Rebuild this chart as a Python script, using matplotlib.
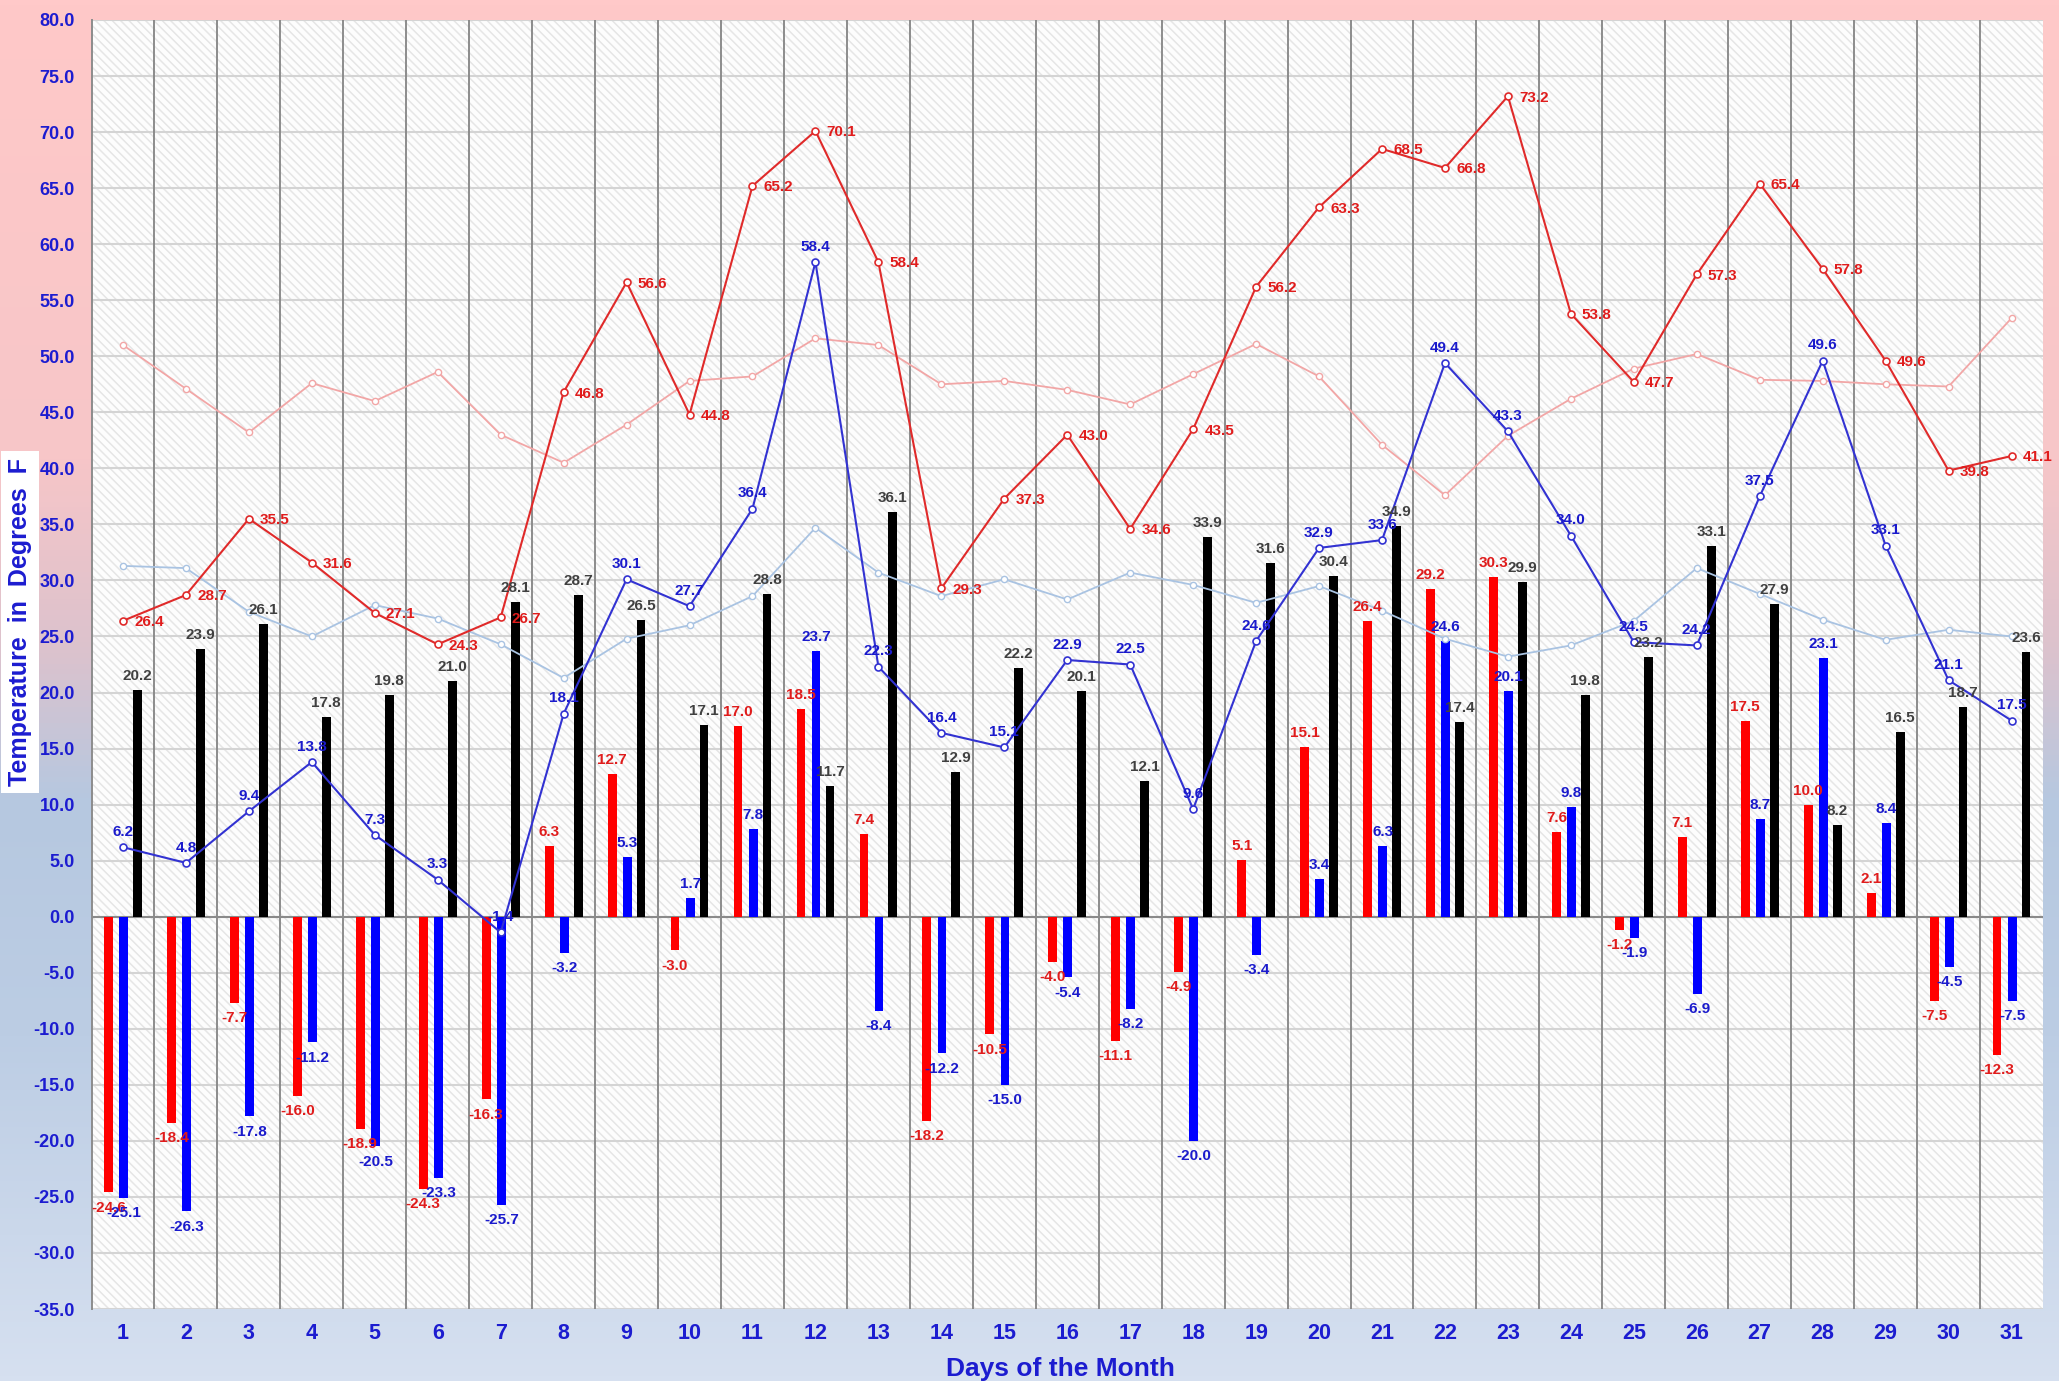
import matplotlib
matplotlib.use("Agg")
import matplotlib.pyplot as plt
import numpy as np
from matplotlib.colors import LinearSegmentedColormap
from matplotlib.patches import Rectangle

plt.rcParams["font.family"] = ["Liberation Sans", "DejaVu Sans"]
plt.rcParams["font.weight"] = "bold"
plt.rcParams["hatch.linewidth"] = 1.1

days = list(range(1, 32))

high = [26.4, 28.7, 35.5, 31.6, 27.1, 24.3, 26.7, 46.8, 56.6, 44.8, 65.2, 70.1, 58.4, 29.3, 37.3, 43.0,
        34.6, 43.5, 56.2, 63.3, 68.5, 66.8, 73.2, 53.8, 47.7, 57.3, 65.4, 57.8, 49.6, 39.8, 41.1]
low = [6.2, 4.8, 9.4, 13.8, 7.3, 3.3, -1.4, 18.1, 30.1, 27.7, 36.4, 58.4, 22.3, 16.4, 15.1, 22.9,
       22.5, 9.6, 24.6, 32.9, 33.6, 49.4, 43.3, 34.0, 24.5, 24.2, 37.5, 49.6, 33.1, 21.1, 17.5]
normal_high = [51.0, 47.1, 43.2, 47.6, 46.0, 48.6, 43.0, 40.5, 43.9, 47.8, 48.2, 51.6, 51.0, 47.5, 47.8, 47.0,
               45.7, 48.4, 51.1, 48.2, 42.1, 37.6, 42.9, 46.2, 48.9, 50.2, 47.9, 47.8, 47.5, 47.3, 53.4]
normal_low = [31.3, 31.1, 27.2, 25.0, 27.8, 26.6, 24.3, 21.3, 24.8, 26.0, 28.6, 34.7, 30.7, 28.6, 30.1, 28.3,
              30.7, 29.6, 28.0, 29.5, 27.3, 24.8, 23.2, 24.2, 26.4, 31.1, 28.8, 26.5, 24.7, 25.6, 25.0]
high_dep = [-24.6, -18.4, -7.7, -16.0, -18.9, -24.3, -16.3, 6.3, 12.7, -3.0, 17.0, 18.5, 7.4, -18.2, -10.5, -4.0,
            -11.1, -4.9, 5.1, 15.1, 26.4, 29.2, 30.3, 7.6, -1.2, 7.1, 17.5, 10.0, 2.1, -7.5, -12.3]
low_dep = [-25.1, -26.3, -17.8, -11.2, -20.5, -23.3, -25.7, -3.2, 5.3, 1.7, 7.8, 23.7, -8.4, -12.2, -15.0, -5.4,
           -8.2, -20.0, -3.4, 3.4, 6.3, 24.6, 20.1, 9.8, -1.9, -6.9, 8.7, 23.1, 8.4, -4.5, -7.5]
daily_range = [20.2, 23.9, 26.1, 17.8, 19.8, 21.0, 28.1, 28.7, 26.5, 17.1, 28.8, 11.7, 36.1, 12.9, 22.2, 20.1,
               12.1, 33.9, 31.6, 30.4, 34.9, 17.4, 29.9, 19.8, 23.2, 33.1, 27.9, 8.2, 16.5, 18.7, 23.6]

RED_TXT = "#e01c1c"
BLUE_TXT = "#1a1acc"
GRAY_TXT = "#404040"
AXIS_BLUE = "#1c1cd0"

fig = plt.figure(figsize=(20.59, 13.81), dpi=100)

# background gradient (pink at top fading to light blue)
bg = fig.add_axes([0, 0, 1, 1], zorder=-5)
bg_cmap = LinearSegmentedColormap.from_list(
    "bg",
    [(0.0, "#ffc9c9"), (0.33, "#f7c6c8"), (0.47, "#dcc2cd"), (0.58, "#b6c8e0"),
     (0.75, "#bccde4"), (1.0, "#d6e0f0")],
)
bg.imshow(np.linspace(0, 1, 256).reshape(-1, 1), aspect="auto", cmap=bg_cmap,
          extent=[0, 1, 0, 1], origin="upper")
bg.axis("off")

ax = fig.add_axes([91.5 / 2059, 1 - 1309 / 1381, (2043 - 91.5) / 2059, (1309 - 20) / 1381])
ax.set_xlim(0.5, 31.5)
ax.set_ylim(-35, 80)
ax.patch.set_facecolor("white")
ax.add_patch(Rectangle((0.5, -35), 31, 115, facecolor="#fdfdfd", edgecolor="#e6e6e6",
                       hatch="\\\\\\\\", linewidth=0, zorder=0))

x = np.array(days, dtype=float)
yticks = np.arange(-35, 80.1, 5)
for yv in yticks:
    ax.axhline(yv, color="#d4d4d4", lw=1.5, zorder=1)
ax.axhline(0, color="#8a8a8a", lw=1.5, zorder=2)
for xv in np.arange(1.5, 31, 1):
    ax.axvline(xv, color="#8c8c8c", lw=1.4, zorder=2)

w = 0.14
ax.bar(x - 0.23, high_dep, width=w, color="#ff0000", zorder=3)
ax.bar(x + 0.01, low_dep, width=w, color="#0000ff", zorder=3)
ax.bar(x + 0.23, daily_range, width=w, color="#000000", zorder=3)

ax.plot(x, normal_high, color="#f2a6a6", lw=1.3, marker="o", ms=4.5, mfc="white", mec="#f2a6a6",
        mew=1.0, zorder=4)
ax.plot(x, normal_low, color="#a9c3e2", lw=1.3, marker="o", ms=4.5, mfc="white", mec="#a9c3e2",
        mew=1.0, zorder=4)
ax.plot(x, high, color="#e02a2a", lw=1.5, marker="o", ms=5, mfc="white", mec="#e02a2a",
        mew=1.2, zorder=5)
ax.plot(x, low, color="#3232d2", lw=1.5, marker="o", ms=5, mfc="white", mec="#3232d2",
        mew=1.2, zorder=5)

fs = 11
for xi, v in zip(x, high):
    ax.annotate(f"{v:.1f}", (xi, v), xytext=(8, -1), textcoords="offset points",
                ha="left", va="center", color=RED_TXT, fontsize=fs, fontweight="bold", zorder=6)
for xi, v in zip(x, low):
    ax.annotate(f"{v:.1f}", (xi, v), xytext=(0, 6), textcoords="offset points",
                ha="center", va="bottom", color=BLUE_TXT, fontsize=fs, fontweight="bold", zorder=6)


def bar_labels(xs, vals, color):
    for xi, v in zip(xs, vals):
        off = 5 if v >= 0 else -6
        ax.annotate(f"{v:.1f}", (xi, v), xytext=(0, off), textcoords="offset points",
                    ha="center", va="bottom" if v >= 0 else "top", color=color,
                    fontsize=fs, fontweight="bold", zorder=6)


bar_labels(x - 0.23, high_dep, RED_TXT)
bar_labels(x + 0.01, low_dep, BLUE_TXT)
bar_labels(x + 0.23, daily_range, GRAY_TXT)

ax.set_yticks(yticks)
ax.set_yticklabels([f"{v:.1f}" for v in yticks], color=AXIS_BLUE, fontsize=13, fontweight="bold")
ax.set_xticks(x)
ax.set_xticklabels([str(d) for d in days], color=AXIS_BLUE, fontsize=15.5, fontweight="bold")
ax.tick_params(axis="y", length=0, pad=12)
ax.tick_params(axis="x", length=0, pad=10)
for side in ["top", "right", "bottom"]:
    ax.spines[side].set_visible(False)
ax.spines["left"].set_color("#8c8c8c")
ax.spines["left"].set_linewidth(1.4)

fig.text(1060 / 2059, 1 - 1369 / 1381, "Days of the Month", ha="center", va="center",
         color=AXIS_BLUE, fontsize=19, fontweight="bold")
fig.text(20 / 2059, 1 - 622 / 1381, "Temperature  in  Degrees  F", rotation=90, ha="center",
         va="center", color=AXIS_BLUE, fontsize=18, fontweight="bold",
         bbox=dict(facecolor="white", edgecolor="none", pad=5))

fig.savefig("out.png", dpi=100)
